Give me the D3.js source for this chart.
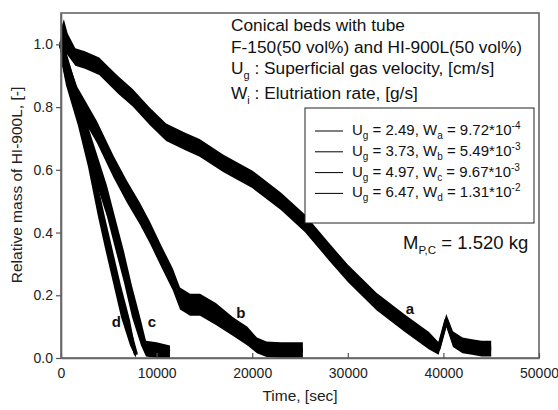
<!DOCTYPE html>
<html><head><meta charset="utf-8">
<script src="https://cdn.jsdelivr.net/npm/d3@7"></script>
<style>
html,body{margin:0;padding:0;background:#fff;}
text{font-family:"Liberation Sans",Arial,sans-serif;}
</style></head>
<body>
<svg id="c" width="558" height="410"></svg>
<script>
// ---- data ----
const xTicks = [0, 10000, 20000, 30000, 40000, 50000];
const yTicks = [0.0, 0.2, 0.4, 0.6, 0.8, 1.0];

const tA = [0, 300, 700, 1500, 2500, 4000, 5000, 6000, 7500, 9300, 11000, 13000, 14500, 17000, 20000, 23000, 25500, 28000, 30000, 33000, 36000, 38500, 39500, 40300, 41000, 42000, 43000, 44000, 45000];
const vA = [1.00, 1.03, 1.00, 0.96, 0.95, 0.93, 0.90, 0.87, 0.83, 0.77, 0.72, 0.69, 0.67, 0.62, 0.57, 0.50, 0.43, 0.34, 0.27, 0.18, 0.11, 0.055, 0.03, 0.12, 0.06, 0.04, 0.035, 0.03, 0.03];
const sA = [0.05, 0.05, 0.035, 0.028, 0.028, 0.028, 0.028, 0.028, 0.028, 0.028, 0.028, 0.028, 0.028, 0.028, 0.028, 0.028, 0.028, 0.028, 0.028, 0.028, 0.028, 0.028, 0.02, 0.02, 0.025, 0.025, 0.025, 0.025, 0.025];

const tB = [0, 500, 1700, 3770, 5500, 6900, 8260, 9300, 10560, 11700, 12450, 13500, 14540, 16200, 18000, 19500, 20500, 21500, 23000, 25300];
const vB = [1.00, 0.93, 0.83, 0.72, 0.61, 0.53, 0.46, 0.40, 0.32, 0.25, 0.19, 0.17, 0.17, 0.14, 0.10, 0.07, 0.04, 0.028, 0.025, 0.025];
const sB = [0.05, 0.04, 0.035, 0.035, 0.035, 0.035, 0.035, 0.035, 0.035, 0.035, 0.035, 0.035, 0.035, 0.035, 0.03, 0.03, 0.025, 0.025, 0.025, 0.025];

const tC = [0, 520, 1780, 3030, 4810, 5650, 6590, 7430, 8370, 8890, 10000, 11400];
const vC = [1.00, 0.93, 0.80, 0.67, 0.50, 0.40, 0.29, 0.18, 0.08, 0.03, 0.025, 0.02];
const sC = [0.05, 0.05, 0.05, 0.05, 0.05, 0.05, 0.05, 0.05, 0.04, 0.025, 0.025, 0.02];

const tD = [0, 520, 1780, 2820, 3870, 4600, 5440, 6280, 7220, 7850];
const vD = [1.00, 0.92, 0.79, 0.66, 0.50, 0.40, 0.29, 0.18, 0.08, 0.01];
const sD = [0.05, 0.05, 0.05, 0.05, 0.05, 0.05, 0.05, 0.05, 0.04, 0.01];

const curveLabels = ["a", "b", "c", "d"];
const labelPos = [[36500, 0.14], [18800, 0.127], [9500, 0.10], [5800, 0.10]];

const legendU = ["2.49", "3.73", "4.97", "6.47"];
const legendSub = ["a", "b", "c", "d"];
const legendW = ["9.72*10", "5.49*10", "9.67*10", "1.31*10"];
const legendExp = ["-4", "-3", "-3", "-2"];

// ---- layout ----
const svg = d3.select("#c");
const L = 61, R = 539, T = 13, B = 358;
const x = d3.scaleLinear().domain([0, 50000]).range([L, R]);
const y = d3.scaleLinear().domain([0, 1.1]).range([B, T]);

// series
const series = [[tA, vA, sA], [tB, vB, sB], [tC, vC, sC], [tD, vD, sD]];
const area = d3.area().x(d => x(d.t)).y0(d => y(Math.max(0, d.v - d.s))).y1(d => y(d.v + d.s));
const line = d3.line().x(d => x(d.t)).y(d => y(d.v));
const g = svg.append("g");
series.forEach(([ts, vs, ss]) => {
  const pts = ts.map((t, i) => ({t, v: vs[i], s: ss[i]}));
  g.append("path").attr("d", area(pts)).attr("fill", "#000");
  g.append("path").attr("d", line(pts)).attr("fill", "none").attr("stroke", "#000").attr("stroke-width", 4).attr("stroke-linejoin", "round");
});

// frame
svg.append("rect").attr("x", L).attr("y", T).attr("width", R - L).attr("height", B - T)
  .attr("fill", "none").attr("stroke", "#666").attr("stroke-width", 1.6);

// axes
const ax = svg.append("g").attr("transform", `translate(0,${B})`)
  .call(d3.axisBottom(x).tickValues(xTicks).tickFormat(d3.format("d")).tickSizeInner(-5).tickSizeOuter(0).tickPadding(10));
const ay = svg.append("g").attr("transform", `translate(${L},0)`)
  .call(d3.axisLeft(y).tickValues(yTicks).tickFormat(d3.format(".1f")).tickSizeInner(5).tickSizeOuter(0).tickPadding(3));
[ax, ay].forEach(a => {
  a.select(".domain").attr("stroke", "#666").attr("stroke-width", 1.6);
  a.selectAll(".tick line").attr("stroke", "#555").attr("stroke-width", 1.2);
  a.selectAll(".tick text").attr("font-size", 14).attr("fill", "#222").attr("font-family", "Liberation Sans, Arial, sans-serif");
});

// axis titles
svg.append("text").attr("x", 300).attr("y", 401).attr("text-anchor", "middle").attr("font-size", 15.5).attr("fill", "#222").text("Time, [sec]");
svg.append("text").attr("transform", "translate(22,185) rotate(-90)").attr("text-anchor", "middle").attr("font-size", 15.5).attr("fill", "#222").text("Relative mass of HI-900L, [-]");

// curve labels
curveLabels.forEach((s, i) => {
  svg.append("text").attr("x", x(labelPos[i][0])).attr("y", y(labelPos[i][1]))
    .attr("font-size", 15).attr("font-weight", "bold").attr("fill", "#111").attr("text-anchor", "middle").text(s);
});

// annotation text
const ann = svg.append("g").attr("font-size", 17.3).attr("fill", "#111");
ann.append("text").attr("x", 231).attr("y", 31).text("Conical beds with tube");
ann.append("text").attr("x", 231).attr("y", 53).text("F-150(50 vol%) and HI-900L(50 vol%)");
const t3 = ann.append("text").attr("x", 231).attr("y", 74);
t3.append("tspan").text("U");
t3.append("tspan").attr("font-size", 11).attr("dy", 5).text("g");
t3.append("tspan").attr("dy", -5).text(" : Superficial gas velocity, [cm/s]");
const t4 = ann.append("text").attr("x", 231).attr("y", 99);
t4.append("tspan").text("W");
t4.append("tspan").attr("font-size", 11).attr("dy", 5).text("i");
t4.append("tspan").attr("dy", -5).text(" : Elutriation rate, [g/s]");

// legend
svg.append("rect").attr("x", 305).attr("y", 108).attr("width", 229).attr("height", 115)
  .attr("fill", "#fff").attr("stroke", "#222").attr("stroke-width", 1);
legendU.forEach((u, i) => {
  const yy = 135 + i * 20.8;
  svg.append("line").attr("x1", 315).attr("x2", 343).attr("y1", yy - 4).attr("y2", yy - 4).attr("stroke", "#000").attr("stroke-width", 1);
  const tx = svg.append("text").attr("x", 352).attr("y", yy).attr("font-size", 15).attr("fill", "#111");
  tx.append("tspan").text("U");
  tx.append("tspan").attr("font-size", 10).attr("dy", 4).text("g");
  tx.append("tspan").attr("dy", -4).text(` = ${u}, W`);
  tx.append("tspan").attr("font-size", 10).attr("dy", 4).text(legendSub[i]);
  tx.append("tspan").attr("dy", -4).text(` = ${legendW[i]}`);
  tx.append("tspan").attr("font-size", 10).attr("dy", -6).text(legendExp[i]);
});

// mass annotation
const m = svg.append("text").attr("x", 403).attr("y", 249).attr("font-size", 18.5).attr("fill", "#111");
m.append("tspan").text("M");
m.append("tspan").attr("font-size", 11.5).attr("dy", 5).text("P,C");
m.append("tspan").attr("dy", -5).text(" = 1.520 kg");
</script>
</body></html>
